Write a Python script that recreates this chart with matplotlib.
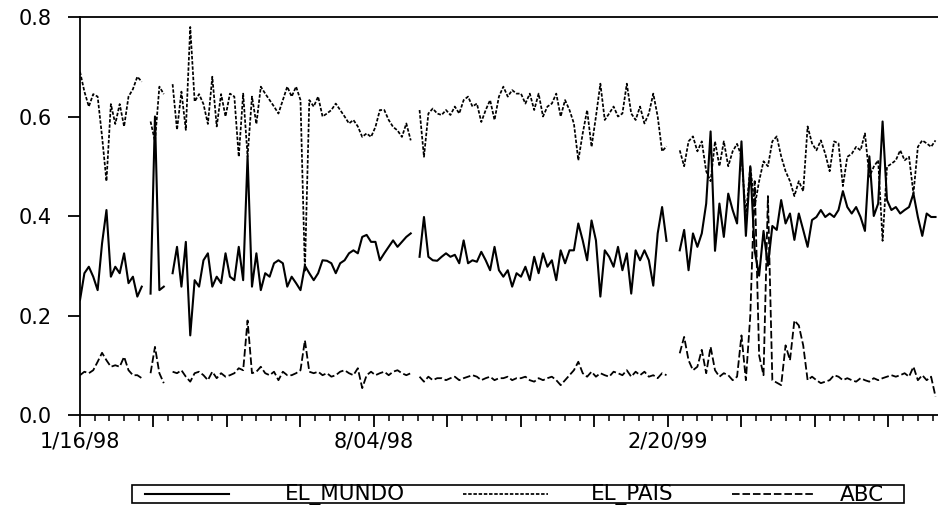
import numpy as np
import pandas as pd
import matplotlib
matplotlib.use("Agg")
import matplotlib.pyplot as plt
from matplotlib.lines import Line2D
from matplotlib.patches import Rectangle

nan = np.nan

# daily observations, read every 3rd day starting 1/16/98
dates = pd.date_range("1998-01-16", periods=195, freq="3D")

el_mundo = [
    .231, .285, .298, .278, .251, .345, .412, .278, .298, .285, .325, .265, .278, .238, .258, nan, .244,
    .60, .251, .258, nan, .285, .338, .258, .348, .16, .271, .258, .311, .325, .258, .278, .265, .325,
    .278, .271, .338, .271, .52, .258, .325, .251, .285, .278, .305, .311, .305, .258, .278, .265, .251,
    .30, .285, .271, .285, .311, .31, .305, .285, .305, .311, .325, .331, .325, .358, .362, .348,
    .348, .311, .325, .338, .351, .338, .348, .358, .365, nan, .318, .398, .318, .311, .31, .318, .325,
    .318, .322, .305, .351, .305, .311, .308, .328, .311, .291, .338, .291, .278, .291, .258, .285,
    .278, .298, .271, .318, .285, .325, .298, .311, .271, .331, .305, .331, .331, .385, .351, .311, .391,
    .351, .238, .331, .318, .298, .338, .291, .325, .244, .331, .311, .331, .311, .26, .365, .418,
    .35, nan, nan, .331, .372, .291, .365, .338, .365, .425, .57, .33, .425, .358, .445, .412, .385,
    .55, .36, .50, .33, .28, .37, .30, .38, .372, .432, .385, .405, .352, .405, .372, .338,
    .392, .398, .412, .398, .405, .398, .412, .45, .418, .405, .418, .398, .37, .52, .40, .425, .59,
    .432, .412, .418, .405, .412, .418, .445, .398, .36, .405, .398, .398,
]

el_pais = [
    .69, .65, .62, .645, .64, .56, .47, .625, .585, .625, .58, .64, .655, .68, .67, nan, .59,
    .55, .66, .645, nan, .665, .573, .65, .573, .78, .63, .645, .625, .585, .68, .58, .645, .60,
    .646, .64, .519, .646, .52, .64, .585, .66, .646, .633, .62, .606, .633, .66, .64, .66, .633,
    .29, .633, .62, .64, .60, .606, .613, .626, .613, .60, .586, .593, .58, .559, .566, .559,
    .579, .613, .613, .593, .579, .572, .559, .586, .552, nan, .613, .519, .606, .616, .606, .603, .613,
    .603, .62, .606, .633, .64, .62, .626, .589, .613, .633, .593, .64, .66, .64, .653, .646,
    .646, .626, .646, .613, .646, .60, .62, .626, .646, .60, .633, .613, .586, .512, .566, .613, .539,
    .60, .666, .593, .606, .62, .60, .606, .666, .606, .593, .62, .586, .606, .646, .60, .53,
    .54, nan, nan, .532, .50, .55, .56, .53, .55, .49, .47, .55, .50, .55, .50, .53, .545,
    .52, .40, .50, .42, .47, .51, .50, .55, .56, .52, .49, .47, .44, .47, .45, .58,
    .546, .532, .552, .525, .49, .55, .546, .46, .519, .525, .539, .532, .566, .479, .499, .512, .35,
    .499, .505, .512, .532, .512, .519, .445, .539, .552, .546, .539, .552,
]

abc = [
    .08, .087, .084, .09, .107, .125, .11, .097, .10, .097, .117, .09, .08, .08, .074, nan, .084,
    .137, .084, .064, nan, .087, .084, .09, .077, .067, .084, .087, .08, .07, .087, .074, .084, .077,
    .08, .084, .094, .09, .19, .084, .087, .097, .084, .08, .087, .07, .087, .08, .08, .084, .09,
    .15, .087, .084, .087, .08, .084, .077, .08, .087, .09, .084, .08, .094, .054, .08, .087,
    .08, .084, .087, .08, .087, .09, .084, .08, .084, nan, .077, .067, .077, .07, .074, .074, .07,
    .074, .077, .07, .074, .077, .08, .077, .07, .074, .077, .07, .074, .074, .077, .07, .074,
    .074, .077, .07, .067, .074, .07, .074, .077, .07, .06, .07, .08, .09, .107, .084, .077, .087,
    .077, .084, .08, .077, .087, .084, .08, .09, .077, .087, .08, .087, .077, .08, .074, .084,
    .08, nan, nan, .124, .157, .11, .09, .097, .131, .084, .137, .09, .077, .084, .08, .07, .077,
    .16, .07, .20, .47, .12, .08, .44, .07, .065, .06, .14, .11, .19, .18, .14, .07,
    .077, .07, .064, .067, .07, .08, .077, .07, .074, .07, .067, .074, .07, .067, .074, .07, .074,
    .077, .08, .077, .08, .084, .077, .097, .07, .08, .07, .077, .037,
]

y_ticks = [0.0, 0.2, 0.4, 0.6, 0.8]
x_labels = {"1998-01-16": "1/16/98", "1998-08-04": "8/04/98", "1999-02-20": "2/20/99"}
series_names = ["EL_MUNDO", "EL_PAIS", "ABC"]

plt.rcParams["font.family"] = ["DejaVu Sans"]

W, H = 938, 511
fig = plt.figure(figsize=(W / 100, H / 100), dpi=100)
ax = fig.add_axes([80 / W, 96 / H, 858 / W, 398 / H])

styles = [
    dict(color="black", lw=1.5),
    dict(color="black", lw=1.25, linestyle=(0, (2.0, 1.0))),
    dict(color="black", lw=1.3, linestyle=(0, (4.2, 1.6))),
]
for vals, st in zip([el_mundo, el_pais, abc], styles):
    ax.plot(dates, vals, **st)

start = pd.Timestamp("1998-01-16")
ax.set_xlim(start, start + pd.Timedelta(days=583.7))
ax.set_ylim(0, 0.8)

major = [start + pd.Timedelta(days=50 * i) for i in range(12)]
minor = [start + pd.Timedelta(days=10 * i) for i in range(59)]
ax.set_xticks(major)
ax.set_xticklabels([x_labels.get(d.strftime("%Y-%m-%d"), "") for d in major])
ax.set_xticks(minor, minor=True)
ax.set_yticks(y_ticks)
ax.set_yticklabels([f"{v:.1f}" for v in y_ticks])

for side in ["left", "bottom", "top"]:
    ax.spines[side].set_linewidth(1.3)
ax.spines["right"].set_visible(False)
ax.tick_params(axis="both", which="major", direction="out", length=8.6, width=1.3,
               labelsize=15, colors="black")
ax.tick_params(axis="x", which="minor", direction="out", length=4.3, width=1.1)
ax.tick_params(axis="y", which="major", pad=12)
ax.tick_params(axis="x", which="major", pad=3)

# legend drawn by hand (wide box under the plot)
def fx(px):
    return px / W

def fy(py):
    return 1 - py / H

fig.add_artist(Rectangle((fx(132), fy(503)), fx(904) - fx(132), fy(485) - fy(503),
                         transform=fig.transFigure, fill=False, edgecolor="black", lw=1.2))
samples = [(145, 229), (463, 548), (732, 813)]
centers = [345, 632, 862]
for (x0, x1), cx, name, st in zip(samples, centers, series_names, styles):
    fig.add_artist(Line2D([fx(x0), fx(x1)], [fy(494), fy(494)],
                          transform=fig.transFigure, **st))
    fig.text(fx(cx), fy(494.5), name, ha="center", va="center", fontsize=15.5)

fig.savefig("out.png", dpi=100)
